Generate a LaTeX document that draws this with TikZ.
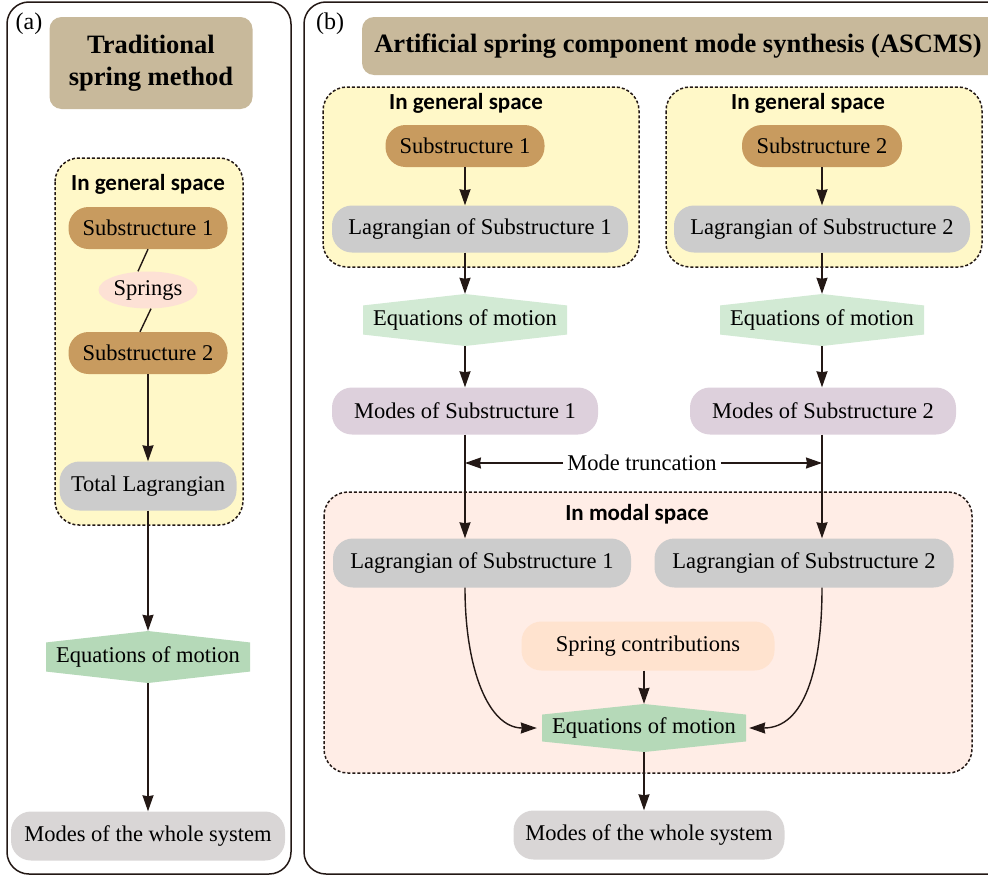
\documentclass[tikz,border=0pt]{standalone}
\usepackage{fontspec}
\setmainfont{Liberation Serif}
\newfontfamily\regionfont{Carlito}
\usetikzlibrary{arrows.meta,calc,shapes.geometric}

\definecolor{linedark}{RGB}{35,24,21}
\definecolor{titletan}{RGB}{200,185,155}
\definecolor{genyellow}{RGB}{255,248,200}
\definecolor{modalpink}{RGB}{255,237,230}
\definecolor{subbrown}{RGB}{200,155,95}
\definecolor{springpink}{RGB}{253,225,213}
\definecolor{laggray}{RGB}{204,204,204}
\definecolor{eqgreen}{RGB}{181,217,184}
\definecolor{eqlight}{RGB}{210,234,212}
\definecolor{modepurple}{RGB}{221,208,220}
\definecolor{wholegray}{RGB}{217,214,214}
\definecolor{contribpeach}{RGB}{255,227,207}

\def\ppbb{path picture bounding box}

\tikzset{
  panel/.style={draw=linedark, line width=1.5pt, rounded corners=22pt},
  region/.style={draw=linedark, line width=1.5pt, dash pattern=on 3pt off 2pt, rounded corners=24pt},
  regionlabel/.style={font=\regionfont\bfseries\fontsize{23}{26}\selectfont, inner sep=0pt},
  titlebox/.style={fill=titletan, rounded corners=12pt, inner sep=0pt, align=center,
    font=\bfseries\fontsize{26.5}{32}\selectfont},
  pill/.style={rounded corners=20pt, inner sep=0pt, minimum height=47pt},
  subbox/.style={pill, fill=subbrown, minimum height=42pt},
  lagbox/.style={pill, fill=laggray},
  modebox/.style={pill, fill=modepurple},
  wholebox/.style={pill, fill=wholegray, minimum height=49pt},
  contribbox/.style={pill, fill=contribpeach, minimum height=49pt},
  eqbox/.style={inner sep=0pt, minimum height=52pt,
    path picture={\fill[#1] (\ppbb.north)
      -- ($(\ppbb.north east)!0.22!(\ppbb.south east)$)
      -- ($(\ppbb.north east)!0.78!(\ppbb.south east)$)
      -- (\ppbb.south)
      -- ($(\ppbb.north west)!0.78!(\ppbb.south west)$)
      -- ($(\ppbb.north west)!0.22!(\ppbb.south west)$) -- cycle;}},
  eqbox/.default=eqgreen,
  arr/.style={draw=linedark, line width=1.4pt, -{Stealth[length=16pt,width=11pt,inset=1pt]}},
  link/.style={draw=linedark, line width=1.4pt}
}

\begin{document}
\begin{tikzpicture}[x=1pt,y=-1pt,font=\fontsize{22.5}{26}\selectfont]
\useasboundingbox (0,0) rectangle (988,878);
\clip (0,0) rectangle (988,878);

% panels
\draw[panel] (7,2) rectangle (291,874);
\draw[panel] (304,2) rectangle (1020,874);
\node[inner sep=0pt, font=\fontsize{24}{26}\selectfont] (taga) at (29,24) {(a)};
\node[inner sep=0pt, font=\fontsize{24}{26}\selectfont] (tagb) at (330,24) {(b)};

% titles
\node[titlebox, minimum width=203pt, minimum height=92pt] (ttrad) at (151,63) {Traditional\\spring method};
\node[titlebox, minimum width=660pt, minimum height=58pt, font=\bfseries\fontsize{26.5}{30}\selectfont] (tascms) at (692,46) {\hspace*{-28pt}Artificial spring component mode synthesis (ASCMS)};

% regions
\draw[region, fill=genyellow] (55,158) rectangle (243,525);
\draw[region, fill=genyellow] (323,87) rectangle (639,267);
\draw[region, fill=genyellow] (666,87) rectangle (982,267);
\draw[region, fill=modalpink] (324,492) rectangle (972,773);
\node[regionlabel] (lgen) at (148,184) {In general space};
\node[regionlabel] (bgen1) at (466,103) {In general space};
\node[regionlabel] (bgen2) at (808,103) {In general space};
\node[regionlabel] (bmodal) at (637,514) {In modal space};

% (a) traditional spring method
\node[subbox, minimum width=159pt] (lsub1) at (148,228) {Substructure 1};
\node[ellipse, fill=springpink, inner sep=0pt, minimum width=99pt, minimum height=37pt] (lspr) at (148,290) {Springs};
\node[subbox, minimum width=159pt] (lsub2) at (148,353) {Substructure 2};
\node[lagbox, minimum width=177pt, minimum height=49pt] (ltot) at (148,486) {Total Lagrangian};
\node[eqbox, minimum width=204pt] (leq) at (148,657) {Equations of motion};
\node[wholebox, minimum width=274pt] (lwhole) at (148,836) {Modes of the whole system};

\draw[link] (lsub1.south) -- ([xshift=-10pt]lspr.north);
\draw[link] ([xshift=3pt]lspr.south) -- ([xshift=-8pt]lsub2.north);
\draw[arr] (lsub2.south) -- (ltot.north);
\draw[arr] (ltot.south) -- (leq.north);
\draw[arr] (leq.south) -- (lwhole.north);

% (b) ASCMS
\node[subbox, minimum width=159pt] (bsub1) at (465,146) {Substructure 1};
\node[lagbox, minimum width=296pt] (blag1) at (480,229) {Lagrangian of Substructure 1};
\node[subbox, minimum width=160pt] (bsub2) at (822,146) {Substructure 2};
\node[lagbox, minimum width=296pt] (blag2) at (822,229) {Lagrangian of Substructure 2};
\node[eqbox=eqlight, minimum width=204pt] (beq1) at (465,320) {Equations of motion};
\node[eqbox=eqlight, minimum width=204pt] (beq2) at (822,320) {Equations of motion};
\node[modebox, minimum width=266pt] (bmod1) at (465,411) {Modes of Substructure 1};
\node[modebox, minimum width=266pt] (bmod2) at (823,411) {Modes of Substructure 2};
\node[inner sep=4pt] (trunc) at (642,463) {Mode truncation};

\node[lagbox, minimum width=298pt, minimum height=49pt] (mlag1) at (482,563) {Lagrangian of Substructure 1};
\node[lagbox, minimum width=299pt, minimum height=49pt] (mlag2) at (804,563) {Lagrangian of Substructure 2};
\node[contribbox, minimum width=253pt] (mspr) at (648,646) {Spring contributions};
\node[eqbox, minimum width=204pt, minimum height=48pt] (meq) at (644,728) {Equations of motion};
\node[wholebox, minimum width=271pt] (bwhole) at (649,835) {Modes of the whole system};

\draw[arr] (bsub1.south) -- (bsub1.south |- blag1.north);
\draw[arr] (bsub2.south) -- (blag2.north);
\draw[arr] (bsub1.south |- blag1.south) -- (beq1.north);
\draw[arr] (blag2.south) -- (beq2.north);
\draw[arr] (beq1.south) -- (bmod1.north);
\draw[arr] (beq2.south) -- (beq2.south |- bmod2.north);
\draw[arr] (bmod1.south) -- (bmod1.south |- mlag1.north);
\draw[arr] (beq2.south |- bmod2.south) -- (beq2.south |- mlag2.north);
\draw[arr] (trunc.west) -- (trunc.west -| bmod1.south);
\draw[arr] (trunc.east) -- (trunc.east -| beq2.south);

\draw[arr] (bmod1.south |- mlag1.south) .. controls +(0,82) and +(-48,0) .. ([xshift=-5pt]meq.west);
\draw[arr] (beq2.south |- mlag2.south) .. controls +(0,82) and +(55,0) .. ([xshift=3pt]meq.east);
\draw[arr] (mspr.south -| meq.north) -- (meq.north);
\draw[arr] (meq.south) -- (meq.south |- bwhole.north);
\end{tikzpicture}
\end{document}
